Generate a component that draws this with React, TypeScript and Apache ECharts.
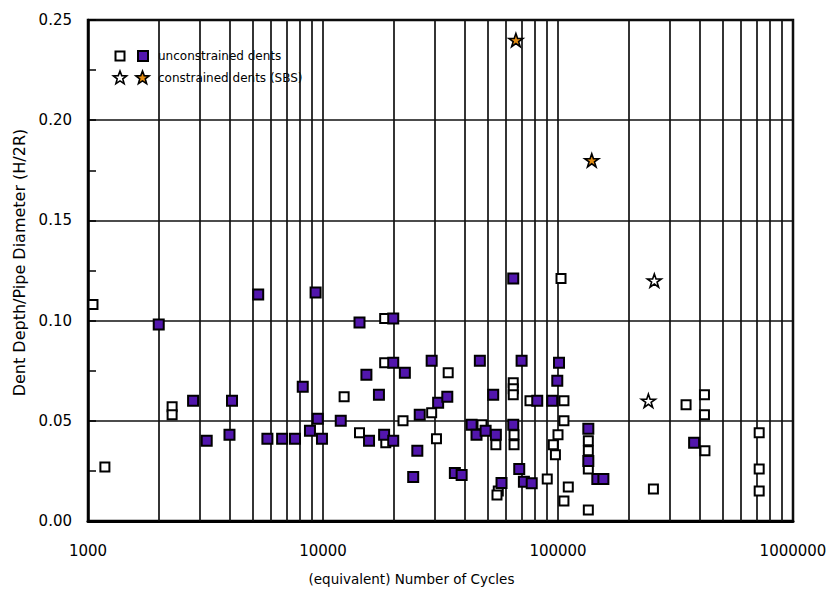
import React, { useEffect, useRef } from "react";
import * as echarts from "echarts";

// ---- data (N cycles, H/2R) ----
const openSquares: [number, number][] = [
  [1050, 0.108], [1180, 0.027], [2280, 0.057], [2280, 0.053],
  [12300, 0.062], [14300, 0.044], [18300, 0.101], [18300, 0.079], [18500, 0.039],
  [21900, 0.05], [29000, 0.054], [30400, 0.041], [34100, 0.074], [47500, 0.048],
  [54400, 0.038], [55700, 0.015], [55000, 0.013],
  [64500, 0.069], [64500, 0.066], [64500, 0.063], [65000, 0.043], [65000, 0.038],
  [76000, 0.06], [90000, 0.021], [100000, 0.043], [95500, 0.038], [97500, 0.033],
  [103000, 0.121], [106000, 0.06], [106000, 0.05], [110600, 0.017], [106000, 0.01],
  [134600, 0.04], [134600, 0.035], [134600, 0.026], [134600, 0.0055],
  [254700, 0.016], [350700, 0.058], [420000, 0.063], [420000, 0.053], [422000, 0.035],
  [718000, 0.044], [718000, 0.026], [718000, 0.015],
];

const filledSquares: [number, number][] = [
  [2000, 0.098], [5300, 0.113], [9300, 0.114], [2800, 0.06], [4100, 0.06],
  [3200, 0.04], [4000, 0.043], [8200, 0.067], [9500, 0.051], [8800, 0.045],
  [9900, 0.041], [5800, 0.041], [6700, 0.041], [7600, 0.041],
  [64500, 0.121], [14300, 0.099], [19900, 0.101], [19900, 0.079], [29000, 0.08],
  [22300, 0.074], [15300, 0.073], [17300, 0.063], [11900, 0.05], [15700, 0.04],
  [18200, 0.043], [19900, 0.04], [25800, 0.053], [30900, 0.059], [33800, 0.062],
  [25200, 0.035], [24200, 0.022], [36400, 0.024], [38900, 0.023],
  [42900, 0.048], [45000, 0.043], [49200, 0.045], [54400, 0.043],
  [46500, 0.08], [70000, 0.08], [53000, 0.063], [64500, 0.048], [68400, 0.026],
  [71600, 0.0196], [77300, 0.0188], [57500, 0.019], [81600, 0.06], [94500, 0.06],
  [99300, 0.07], [101000, 0.079], [134600, 0.046], [134600, 0.03],
  [147000, 0.021], [156000, 0.021], [379500, 0.039],
];

const openStars: [number, number][] = [[257000, 0.12], [242500, 0.06]];
const filledStars: [number, number][] = [[66200, 0.24], [139200, 0.18]];

const xMinorGrid = [
  2000, 3000, 4000, 5000, 6000, 7000, 8000, 9000,
  20000, 30000, 40000, 50000, 60000, 70000, 80000, 90000,
  200000, 300000, 400000, 500000, 600000, 700000, 800000, 900000,
];
const xTickLabels = ["1000", "10000", "100000", "1000000"];
const legendLabels = ["unconstrained dents", "constrained dents (SBS)"];

const FONT = "DejaVu Sans";
const PURPLE = "#5216ad";
const ORANGE = "#e38c12";
const STAR =
  "path://M50 0L61.8 35.1L98.1 35.1L68.8 56.8L79.4 91.1L50 69.5L20.6 91.1L31.2 56.8L1.9 35.1L38.2 35.1Z";

function starPoints(cx: number, cy: number, r: number): number[][] {
  const pts: number[][] = [];
  for (let i = 0; i < 10; i++) {
    const a = -Math.PI / 2 + (i * Math.PI) / 5;
    const rr = i % 2 === 0 ? r : r * 0.42;
    pts.push([cx + rr * Math.cos(a), cy + rr * Math.sin(a)]);
  }
  return pts;
}

export default function App() {
  const ref = useRef<HTMLDivElement>(null);
  useEffect(() => {
    if (!ref.current) return;
    const chart = echarts.init(ref.current, undefined, { renderer: "svg" });
    const gridLine = { color: "#111", width: 1.7 };
    chart.setOption({
      animation: false,
      backgroundColor: "#fff",
      grid: {
        left: 88,
        right: 39,
        top: 20,
        bottom: 73,
        show: true,
        borderColor: "#000",
        borderWidth: 2.5,
        backgroundColor: "transparent",
      },
      xAxis: {
        type: "log",
        logBase: 10,
        min: 1000,
        max: 1000000,
        name: "(equivalent) Number of Cycles",
        nameLocation: "middle",
        nameGap: 51,
        nameTextStyle: {
          fontFamily: FONT,
          fontSize: 13.5,
          color: "#000",
          padding: [0, 58, 0, 0],
        },
        axisLine: { show: true, onZero: false, lineStyle: { color: "#000", width: 3 } },
        axisTick: { show: false },
        splitLine: { show: true, lineStyle: gridLine },
        axisLabel: {
          margin: 22,
          fontFamily: FONT,
          fontSize: 15,
          color: "#000",
          formatter: (v: number) => {
            const i = Math.round(Math.log10(v)) - 3;
            return xTickLabels[i] ?? String(v);
          },
        },
      },
      yAxis: {
        type: "value",
        min: 0,
        max: 0.25,
        interval: 0.05,
        name: "Dent Depth/Pipe Diameter (H/2R)",
        nameLocation: "middle",
        nameRotate: 90,
        nameGap: 56,
        nameTextStyle: {
          fontFamily: FONT,
          fontSize: 16,
          color: "#000",
          padding: [0, 0, 0, 16],
        },
        axisLine: { show: true, lineStyle: { color: "#000", width: 2.5 } },
        axisTick: { show: true, inside: true, length: 8, lineStyle: { color: "#000", width: 1.5 } },
        minorTick: { show: true, splitNumber: 2, length: 8, lineStyle: { color: "#000", width: 1.5 } },
        splitLine: { show: true, lineStyle: gridLine },
        axisLabel: {
          margin: 16,
          fontFamily: FONT,
          fontSize: 15,
          color: "#000",
          formatter: (v: number) => v.toFixed(2),
        },
      },
      graphic: [
        {
          type: "group",
          z: 50,
          children: [
            { type: "rect", shape: { x: 97, y: 37, width: 211, height: 53 }, style: { fill: "#fff" } },
            {
              type: "rect",
              shape: { x: 115.5, y: 51.5, width: 9, height: 9 },
              style: { fill: "#fff", stroke: "#000", lineWidth: 2 },
            },
            {
              type: "rect",
              shape: { x: 138, y: 51, width: 10, height: 10 },
              style: { fill: PURPLE, stroke: "#000", lineWidth: 2 },
            },
            {
              type: "text",
              x: 158,
              y: 56,
              style: { text: legendLabels[0], fontFamily: FONT, fontSize: 12, fill: "#000", verticalAlign: "middle" },
            },
            {
              type: "polygon",
              shape: { points: starPoints(120, 78, 7) },
              style: { fill: "#fff", stroke: "#000", lineWidth: 1.6 },
            },
            {
              type: "polygon",
              shape: { points: starPoints(142.5, 78, 7) },
              style: { fill: ORANGE, stroke: "#000", lineWidth: 1.6 },
            },
            {
              type: "text",
              x: 158,
              y: 78,
              style: { text: legendLabels[1], fontFamily: FONT, fontSize: 12, fill: "#000", verticalAlign: "middle" },
            },
          ],
        },
      ],
      series: [
        {
          name: "minor grid",
          type: "line",
          data: [],
          z: 1,
          silent: true,
          markLine: {
            silent: true,
            symbol: "none",
            label: { show: false },
            lineStyle: { color: "#111", width: 1.7, type: "solid" },
            data: xMinorGrid.map((v) => ({ xAxis: v })),
          },
        },
        {
          name: "unconstrained dents (open)",
          type: "scatter",
          z: 5,
          symbol: "rect",
          symbolSize: 9,
          itemStyle: { color: "#fff", borderColor: "#000", borderWidth: 2, opacity: 1 },
          data: openSquares,
        },
        {
          name: "unconstrained dents",
          type: "scatter",
          z: 6,
          symbol: "rect",
          symbolSize: 10,
          itemStyle: { color: PURPLE, borderColor: "#000", borderWidth: 2, opacity: 1 },
          data: filledSquares,
        },
        {
          name: "constrained dents (open)",
          type: "scatter",
          z: 7,
          symbol: STAR,
          symbolKeepAspect: true,
          symbolSize: 14,
          itemStyle: { color: "#fff", borderColor: "#000", borderWidth: 1.6, opacity: 1 },
          data: openStars,
        },
        {
          name: "constrained dents (SBS)",
          type: "scatter",
          z: 8,
          symbol: STAR,
          symbolKeepAspect: true,
          symbolSize: 14,
          itemStyle: { color: ORANGE, borderColor: "#000", borderWidth: 1.6, opacity: 1 },
          data: filledStars,
        },
      ],
    });
    return () => chart.dispose();
  }, []);
  return (
    <div
      ref={ref}
      style={{ position: "absolute", left: 0, top: 0, width: 832, height: 594, background: "#fff" }}
    />
  );
}
